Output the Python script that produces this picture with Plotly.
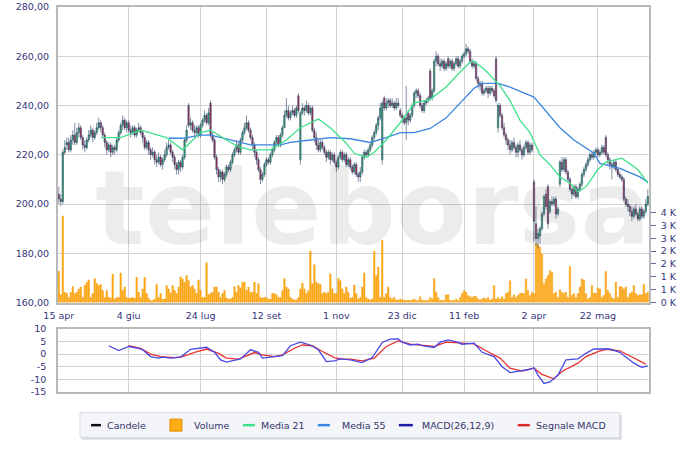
import plotly.graph_objects as go

# ---------------- data ----------------
tick_labels = ["15 apr", "4 giu", "24 lug", "12 set", "1 nov", "23 dic", "11 feb", "2 apr", "22 mag"]
tick_days = [0, 35, 71, 104, 139, 172, 203, 238, 270]

open_ = [
    204, 202, 201, 221, 224, 225, 222, 226, 228, 225,
    229, 231, 227, 224, 223, 226, 228, 230, 227, 229,
    231, 233, 231, 228, 225, 222, 224, 221, 223, 222,
    226, 229, 232, 234, 231, 233, 230, 229, 231, 228,
    230, 231, 229, 227, 223, 225, 222, 220, 221, 218,
    217, 219, 216, 218, 220, 223, 224, 221, 219, 216,
    214, 217, 215, 219, 226, 240, 232, 233, 230, 229,
    231, 228, 232, 234, 236, 233, 241, 228, 226, 219,
    214, 211, 213, 210, 212, 215, 214, 217, 220, 222,
    224, 221, 226, 229, 231, 233, 230, 227, 224, 221,
    218, 214, 210, 212, 216, 218, 217, 220, 222, 225,
    227, 224, 228, 231, 236, 238, 235, 237, 238, 236,
    244, 218, 237, 239, 238, 240, 237, 239, 230, 227,
    224, 222, 225, 223, 221, 219, 221, 218, 220, 217,
    215, 219, 221, 218, 220, 216, 218, 215, 213, 216,
    212, 211, 213, 219, 221, 220, 222, 224, 227, 229,
    232, 235, 218, 243, 239, 241, 242, 240, 241, 239,
    241, 238, 236, 235, 233, 237, 234, 236, 240, 245,
    246, 244, 240, 238, 241, 242, 254, 243, 246, 258,
    260, 257, 256, 258, 255, 259, 256, 258, 255, 257,
    259, 256, 258, 260, 261, 263, 262, 258, 256, 257,
    251, 249, 249, 245, 246, 247, 245, 247, 246, 259,
    231, 240, 236, 231, 228, 226, 224, 222, 225, 223,
    221, 224, 222, 220, 223, 225, 221, 224, 209, 192,
    186, 187, 190, 196, 204, 207, 197, 201, 200, 202,
    196, 208, 217, 214, 218, 213, 210, 206, 204, 207,
    203, 206, 208, 212, 214, 216, 218, 220, 219, 221,
    222, 220, 221, 223, 227, 220, 218, 216, 215, 217,
    214, 212, 211, 210, 202, 200, 199, 197, 195, 198,
    196, 194, 198, 195, 197, 200,
]
high = [
    207, 204, 222, 226, 227, 227, 228, 230, 233, 231,
    233, 232, 228, 226, 227, 230, 232, 231, 230, 233,
    235, 234, 232, 229, 226, 225, 225, 224, 224, 227,
    230, 233, 236, 235, 234, 234, 232, 232, 232, 231,
    233, 232, 230, 228, 226, 226, 223, 223, 222, 220,
    221, 220, 219, 222, 225, 226, 225, 222, 220, 217,
    218, 218, 220, 227, 232, 241, 235, 234, 232, 232,
    232, 233, 235, 238, 237, 239, 242, 229, 227, 220,
    215, 214, 214, 213, 216, 216, 218, 221, 223, 226,
    225, 227, 230, 233, 236, 234, 231, 228, 225, 222,
    219, 215, 213, 217, 219, 219, 221, 223, 226, 228,
    228, 229, 232, 238, 243, 240, 238, 240, 239, 240,
    245, 238, 241, 240, 242, 241, 240, 240, 231, 229,
    226, 226, 226, 224, 222, 222, 222, 221, 221, 218,
    220, 222, 222, 221, 221, 219, 219, 216, 217, 217,
    213, 215, 220, 222, 222, 223, 225, 228, 230, 233,
    236, 241, 242, 244, 243, 243, 243, 243, 242, 243,
    243, 239, 237, 236, 248, 238, 237, 241, 246, 247,
    247, 245, 241, 242, 243, 244, 255, 247, 259, 262,
    261, 259, 259, 259, 258, 260, 259, 259, 258, 260,
    260, 259, 261, 262, 265, 264, 263, 259, 258, 258,
    252, 250, 250, 247, 248, 248, 248, 248, 247, 260,
    241, 241, 237, 233, 229, 227, 226, 226, 227, 224,
    225, 226, 223, 224, 226, 226, 225, 225, 210, 199,
    190, 191, 197, 204, 206, 208, 202, 203, 203, 203,
    199, 218, 219, 219, 219, 214, 211, 207, 208, 208,
    207, 209, 213, 215, 217, 219, 221, 221, 222, 223,
    223, 222, 224, 224, 228, 221, 219, 217, 218, 218,
    215, 213, 212, 211, 203, 202, 200, 199, 199, 200,
    197, 199, 199, 198, 202, 206,
]
low = [
    200, 199, 200, 220, 222, 221, 221, 224, 224, 224,
    227, 226, 222, 221, 222, 225, 227, 225, 226, 228,
    230, 229, 227, 223, 220, 221, 219, 220, 220, 221,
    225, 228, 230, 230, 229, 229, 227, 228, 227, 227,
    229, 228, 225, 222, 222, 220, 218, 219, 216, 215,
    216, 215, 214, 217, 219, 222, 220, 217, 214, 212,
    212, 213, 214, 218, 225, 231, 230, 229, 227, 228,
    227, 227, 231, 233, 232, 232, 227, 225, 218, 212,
    209, 209, 208, 209, 211, 213, 213, 216, 219, 221,
    220, 220, 225, 228, 230, 229, 226, 222, 219, 216,
    213, 208, 209, 211, 215, 216, 216, 219, 221, 224,
    223, 223, 227, 231, 235, 234, 234, 236, 235, 235,
    237, 216, 236, 236, 237, 236, 236, 229, 225, 222,
    221, 221, 222, 220, 217, 218, 216, 217, 216, 213,
    214, 218, 217, 217, 215, 215, 214, 212, 212, 211,
    209, 209, 212, 218, 219, 219, 221, 223, 226, 228,
    230, 234, 216, 238, 238, 239, 239, 239, 238, 238,
    239, 235, 233, 232, 226, 232, 233, 235, 239, 243,
    243, 239, 237, 237, 240, 241, 242, 242, 245, 256,
    256, 254, 255, 254, 254, 255, 255, 254, 254, 256,
    255, 255, 257, 259, 260, 261, 257, 255, 255, 250,
    247, 246, 244, 244, 245, 243, 244, 245, 243, 241,
    229, 235, 230, 227, 224, 222, 220, 221, 222, 219,
    219, 221, 218, 219, 222, 220, 220, 221, 185, 183,
    182, 184, 189, 195, 198, 190, 196, 199, 199, 194,
    195, 207, 213, 213, 212, 209, 205, 202, 203, 202,
    202, 205, 207, 211, 213, 215, 217, 218, 218, 220,
    219, 219, 220, 220, 219, 216, 214, 210, 214, 213,
    211, 210, 209, 201, 199, 197, 195, 193, 194, 195,
    193, 193, 194, 194, 196, 199,
]
close = [
    202, 201, 221, 223, 225, 222, 226, 228, 225, 229,
    231, 227, 224, 223, 226, 228, 230, 227, 229, 231,
    233, 231, 228, 225, 222, 224, 221, 223, 222, 226,
    229, 232, 234, 231, 233, 230, 229, 231, 228, 230,
    231, 229, 227, 223, 225, 222, 220, 221, 218, 217,
    219, 216, 218, 220, 223, 224, 221, 219, 216, 214,
    217, 215, 219, 226, 230, 232, 233, 230, 229, 231,
    228, 232, 234, 236, 233, 237, 228, 226, 219, 214,
    211, 213, 210, 212, 215, 214, 217, 220, 222, 224,
    221, 226, 229, 231, 233, 230, 227, 224, 221, 218,
    214, 210, 212, 216, 218, 217, 220, 222, 225, 227,
    224, 228, 231, 236, 238, 235, 237, 238, 236, 239,
    238, 237, 239, 238, 240, 237, 239, 230, 227, 224,
    222, 225, 223, 221, 219, 221, 218, 220, 217, 215,
    219, 221, 218, 220, 216, 218, 215, 213, 216, 212,
    211, 213, 219, 221, 220, 222, 224, 227, 229, 232,
    235, 239, 241, 239, 241, 242, 240, 241, 239, 241,
    240, 236, 235, 233, 235, 234, 236, 240, 245, 246,
    244, 240, 238, 241, 242, 243, 243, 246, 258, 260,
    257, 256, 258, 255, 257, 256, 258, 255, 257, 259,
    256, 258, 260, 261, 263, 262, 258, 256, 257, 251,
    249, 248, 245, 246, 247, 245, 247, 246, 244, 242,
    240, 236, 231, 228, 226, 224, 222, 225, 223, 221,
    224, 222, 220, 223, 225, 221, 224, 222, 193, 186,
    188, 190, 196, 203, 199, 192, 201, 200, 202, 196,
    198, 217, 214, 218, 213, 210, 206, 204, 207, 203,
    206, 208, 212, 214, 216, 218, 220, 219, 221, 222,
    220, 221, 223, 221, 220, 218, 216, 215, 217, 214,
    212, 211, 210, 202, 200, 199, 197, 195, 198, 196,
    194, 198, 195, 197, 200, 203,
]
volume = [
    1220, 300, 3370, 400, 350, 200, 400, 620, 350, 400,
    530, 600, 200, 660, 790, 880, 200, 350, 930, 750,
    660, 700, 470, 200, 470, 200, 170, 1100, 140, 200,
    200, 1150, 470, 600, 200, 160, 180, 200, 170, 980,
    400, 200, 530, 980, 350, 170, 80, 80, 140, 700,
    200, 350, 120, 140, 660, 530, 370, 660, 470, 350,
    600, 1000, 920, 790, 1050, 850, 600, 660, 530, 350,
    880, 470, 200, 200, 1550, 300, 350, 400, 600, 600,
    400, 200, 350, 470, 180, 140, 140, 200, 620, 400,
    660, 570, 790, 790, 470, 600, 400, 400, 790, 350,
    730, 200, 180, 200, 200, 140, 140, 350, 350, 300,
    200, 200, 470, 930, 600, 530, 200, 140, 100, 100,
    200, 530, 750, 530, 350, 470, 2000, 730, 1470, 790,
    730, 700, 350, 400, 350, 400, 1120, 530, 350, 350,
    940, 850, 530, 350, 600, 400, 180, 200, 680, 350,
    140, 200, 600, 1150, 200, 140, 100, 140, 2000, 1050,
    1380, 200, 2420, 200, 350, 600, 200, 140, 200, 100,
    100, 140, 100, 100, 80, 100, 80, 100, 140, 80,
    80, 230, 100, 80, 80, 80, 200, 140, 930, 400,
    200, 80, 100, 80, 300, 300, 80, 80, 80, 140,
    80, 200, 350, 470, 400, 270, 230, 200, 240, 230,
    140, 100, 140, 180, 140, 200, 100, 140, 660, 140,
    200, 140, 230, 140, 350, 400, 850, 200, 300, 200,
    270, 350, 370, 350, 920, 470, 270, 400, 350, 2290,
    2250, 2160, 1900, 730, 920, 1050, 1250, 1180, 350, 400,
    200, 500, 400, 350, 400, 200, 1400, 270, 350, 200,
    350, 600, 920, 880, 350, 140, 200, 660, 370, 350,
    570, 530, 200, 270, 1210, 470, 350, 200, 140, 790,
    200, 620, 600, 530, 600, 200, 350, 400, 660, 350,
    270, 300, 300, 700, 350, 400,
]

ma21_day = [21, 31, 41, 54, 62, 71, 76, 86, 91, 96, 106, 114, 121, 130, 136, 144, 148, 154,
            158, 164, 171, 178, 186, 194, 201, 206, 208, 214, 221, 226, 231, 236, 241, 246,
            251, 256, 260, 264, 270, 274, 282, 290, 295]
ma21 = [227, 227, 230, 227, 222, 229, 230, 225, 223, 222, 222, 226, 231, 234.5, 231, 224.7,
        220.6, 219, 221, 226, 233, 241, 242.5, 247.5, 253.6, 257.6, 258, 254, 248, 242, 234,
        229, 220, 216, 211, 208.5, 205, 207, 214, 217, 218.6, 214, 208.5]

ma55_day = [55, 62, 71, 76, 86, 96, 111, 116, 126, 136, 146, 156, 164, 171, 178, 186, 194,
            201, 208, 212, 220, 226, 238, 251, 258, 268, 271, 281, 291, 295]
ma55 = [226.7, 226.7, 228, 228, 226, 224, 224, 225, 226, 227, 226.5, 225, 227, 229, 229,
        230.7, 235, 241, 247, 249, 249, 247.5, 243.4, 231, 226, 220.6, 216.5, 214.5, 211, 209]

macd_day = [25, 30, 35, 40, 42, 46, 50, 52, 56, 61, 66, 70, 74, 78, 81, 84, 88, 91, 96, 100,
            102, 106, 110, 112, 116, 121, 126, 130, 134, 138, 141, 146, 152, 157, 162, 166,
            170, 172, 176, 180, 182, 188, 191, 195, 200, 202, 208, 212, 218, 222, 226, 231,
            236, 238, 240, 243, 246, 250, 254, 260, 264, 268, 272, 276, 281, 288, 292, 295]
macd = [3.3, 1.4, 3.0, 2.3, 1.7, -1.0, -1.6, -1.2, -1.6, -1.2, 1.9, 2.3, 2.7, 0.7, -2.3,
        -3.2, -2.6, -1.9, 1.7, 0.7, -1.6, -1.2, -0.6, -0.6, 3.3, 4.7, 3.6, 1.7, -3.0, -2.7,
        -1.9, -2.3, -3.4, -1.4, 4.6, 5.9, 6.0, 4.7, 3.6, 3.9, 3.3, 2.6, 4.7, 5.6, 4.6, 3.9,
        4.3, 0.7, -1.0, -5.0, -7.3, -6.7, -6.0, -5.4, -8.3, -11.6, -11.0, -8.3, -2.3, -1.9,
        0.3, 2.0, 1.9, 2.0, 0.7, -3.6, -5.2, -4.7]

signal_day = [35, 41, 46, 51, 58, 62, 68, 74, 80, 84, 90, 94, 98, 102, 108, 112, 118, 122,
              127, 132, 138, 142, 146, 152, 158, 164, 170, 176, 182, 188, 194, 201, 208, 214,
              221, 226, 232, 238, 242, 248, 252, 260, 264, 270, 274, 281, 288, 294]
signal = [3.3, 2.3, 0.0, -1.0, -1.4, -1.0, 0.7, 2.0, 0.3, -1.6, -2.0, -0.6, 0.6, -0.3, -1.0,
          -0.3, 2.3, 3.6, 3.3, 1.0, -1.4, -2.0, -2.0, -2.7, -1.6, 3.0, 5.2, 3.9, 3.4, 3.0,
          4.7, 4.3, 4.0, 1.3, -1.6, -5.6, -6.7, -5.6, -8.0, -9.8, -6.9, -3.6, -1.0, 1.0, 1.9,
          1.3, -1.4, -4.0]

vol_tickvals = [0, 500, 1000, 1500, 2000, 2500, 3000, 3500]
vol_ticktext = ["0 K", "1 K", "1 K", "2 K", "2 K", "3 K", "3 K", "4 K"]
macd_tickvals = [-15, -10, -5, 0, 5, 10]
macd_ticktext = ["-15", "-10", "-5", "0", "5", "10"]

legend_items = ["Candele", "Volume", "Media 21", "Media 55", "MACD(26,12,9)", "Segnale MACD"]
watermark = "teleborsa"

# ---------------- figure ----------------
days = list(range(len(close)))
W, H = 700, 451
L, R, T, B = 58, 649.3, 6.7, 392.3
MAIN_B = 302.7
FONT = "DejaVu Sans"
TXT = "#35357a"
GRID = "#d3d3d3"
BORDER = "#b9b9b9"
XR = [-0.4, 295.6]
PR = [160, 280]
VR = [0, 11500]


def px(x):
    return (x - L) / (R - L)


def py(y):
    return (B - y) / (B - T)


def to_day(xpix):
    return XR[0] + (xpix - L) / (R - L) * (XR[1] - XR[0])


def to_vol(ypix):
    return (MAIN_B - ypix) / (MAIN_B - T) * (VR[1] - VR[0])


fig = go.Figure()

# faint logo watermark behind everything in the price panel
fig.add_trace(go.Scatter(x=[to_day(373)], y=[to_vol(218)], xaxis="x", yaxis="y",
                         mode="text", text=[watermark], textposition="middle center",
                         textfont=dict(family=FONT, size=104, weight="bold",
                                       color="rgba(0,0,0,0.075)"),
                         showlegend=False, hoverinfo="skip"))

fig.add_trace(go.Bar(x=days, y=volume, xaxis="x", yaxis="y",
                     marker=dict(color="#ffad14", line=dict(color="#f29200", width=0.4)),
                     name="Volume", showlegend=False, hoverinfo="skip"))

fig.add_trace(go.Candlestick(x=days, open=open_, high=high, low=low, close=close,
                             xaxis="x", yaxis="y2", name="Candele", showlegend=False,
                             whiskerwidth=0,
                             increasing=dict(fillcolor="#2fb566", line=dict(color="#2b4468", width=0.6)),
                             decreasing=dict(fillcolor="#bd2549", line=dict(color="#2b4468", width=0.6))))

fig.add_trace(go.Scatter(x=ma55_day, y=ma55, xaxis="x", yaxis="y2", mode="lines",
                         line=dict(color="#3a86e0", width=1.3), name="Media 55", showlegend=False))
fig.add_trace(go.Scatter(x=ma21_day, y=ma21, xaxis="x", yaxis="y2", mode="lines",
                         line=dict(color="#3fe08c", width=1.3), name="Media 21", showlegend=False))

fig.add_trace(go.Scatter(x=signal_day, y=signal, xaxis="x2", yaxis="y3", mode="lines",
                         line=dict(color="#e83232", width=1.3), name="Segnale MACD", showlegend=False))
fig.add_trace(go.Scatter(x=macd_day, y=macd, xaxis="x2", yaxis="y3", mode="lines",
                         line=dict(color="#4848e6", width=1.3), name="MACD(26,12,9)", showlegend=False))

main_bottom = py(MAIN_B)
macd_top = py(329)

fig.update_layout(
    width=W, height=H,
    margin=dict(l=L, r=W - R, t=T, b=H - B, autoexpand=False),
    paper_bgcolor="white", plot_bgcolor="white",
    separators=",.",
    showlegend=False,
    bargap=0.25, boxgap=0.05,
    font=dict(family=FONT, size=9, color=TXT),
    xaxis=dict(domain=[0, 1], anchor="y", range=XR, tickmode="array", tickvals=tick_days,
               ticktext=tick_labels, showgrid=True, gridcolor=GRID, gridwidth=1,
               showline=True, mirror=True, linecolor=BORDER, linewidth=1.5, ticks="",
               ticklabelstandoff=3, zeroline=False, rangeslider=dict(visible=False),
               tickfont=dict(family=FONT, size=9.5, color=TXT)),
    yaxis=dict(domain=[main_bottom, 1], anchor="x", side="right", range=VR,
               tickmode="array", tickvals=vol_tickvals, ticktext=vol_ticktext,
               showgrid=False, zeroline=False, showline=True, mirror=True, linecolor=BORDER,
               linewidth=1.5, ticks="outside", ticklen=5, tickcolor="#6a6a9a",
               ticklabelstandoff=3, tickfont=dict(family=FONT, size=9.5, color=TXT)),
    yaxis2=dict(overlaying="y", anchor="x", side="left", range=PR, dtick=20,
                tick0=160, tickformat=".2f", showgrid=True, gridcolor=GRID, gridwidth=1,
                zeroline=False, ticks="", ticklabelstandoff=8,
                tickfont=dict(family=FONT, size=9.5, color=TXT)),
    xaxis2=dict(domain=[0, 1], anchor="y3", matches="x", range=XR, tickmode="array",
                tickvals=tick_days, showticklabels=False, showgrid=True, gridcolor=GRID,
                showline=True, mirror=True, linecolor=BORDER, linewidth=1.5, ticks="",
                zeroline=False),
    yaxis3=dict(domain=[0, macd_top], anchor="x2", range=[-15, 10], tickmode="array",
                tickvals=macd_tickvals, ticktext=macd_ticktext, showgrid=True,
                gridcolor=GRID, zeroline=False, showline=True, mirror=True,
                linecolor=BORDER, linewidth=1.5, ticks="", ticklabelstandoff=8,
                tickfont=dict(family=FONT, size=9.5, color=TXT)),
)

# ---------------- custom legend ----------------
shapes = []
ann = []
ytop, ybot = 413, 438
shapes.append(dict(type="rect", xref="paper", yref="paper", x0=px(82), x1=px(622),
                   y0=py(ybot + 2), y1=py(ytop + 2), fillcolor="#d9dbe0", line=dict(width=0),
                   layer="below"))
shapes.append(dict(type="rect", xref="paper", yref="paper", x0=px(80), x1=px(620),
                   y0=py(ybot), y1=py(ytop), fillcolor="#f3f5f8",
                   line=dict(color="#d6dae0", width=1)))
yc = (ytop + ybot) / 2
items = [
    ("line", "#111111", 91, 101, 105),
    ("box", "#ffad14", 170, 182, 192),
    ("line", "#3fe08c", 243, 255, 259),
    ("line", "#3a86e0", 318, 330, 340),
    ("line", "#1c1ca6", 399, 413, 420),
    ("line", "#dd2a2a", 518, 530, 534),
]
for (kind, col, x0, x1, xt), label in zip(items, legend_items):
    if kind == "line":
        shapes.append(dict(type="line", xref="paper", yref="paper", x0=px(x0), x1=px(x1),
                           y0=py(yc), y1=py(yc), line=dict(color=col, width=2.5)))
    else:
        shapes.append(dict(type="rect", xref="paper", yref="paper", x0=px(x0), x1=px(x1),
                           y0=py(yc + 6), y1=py(yc - 6), fillcolor=col,
                           line=dict(color="#e58a00", width=1)))
    ann.append(dict(xref="paper", yref="paper", x=px(xt), y=py(yc), text=label,
                    showarrow=False, xanchor="left", yanchor="middle",
                    font=dict(family=FONT, size=9.5, color="#33336a")))

fig.update_layout(shapes=shapes, annotations=ann)

fig.write_html("out.html", config={"displayModeBar": False},
               post_script="document.body.style.margin='0px';")
